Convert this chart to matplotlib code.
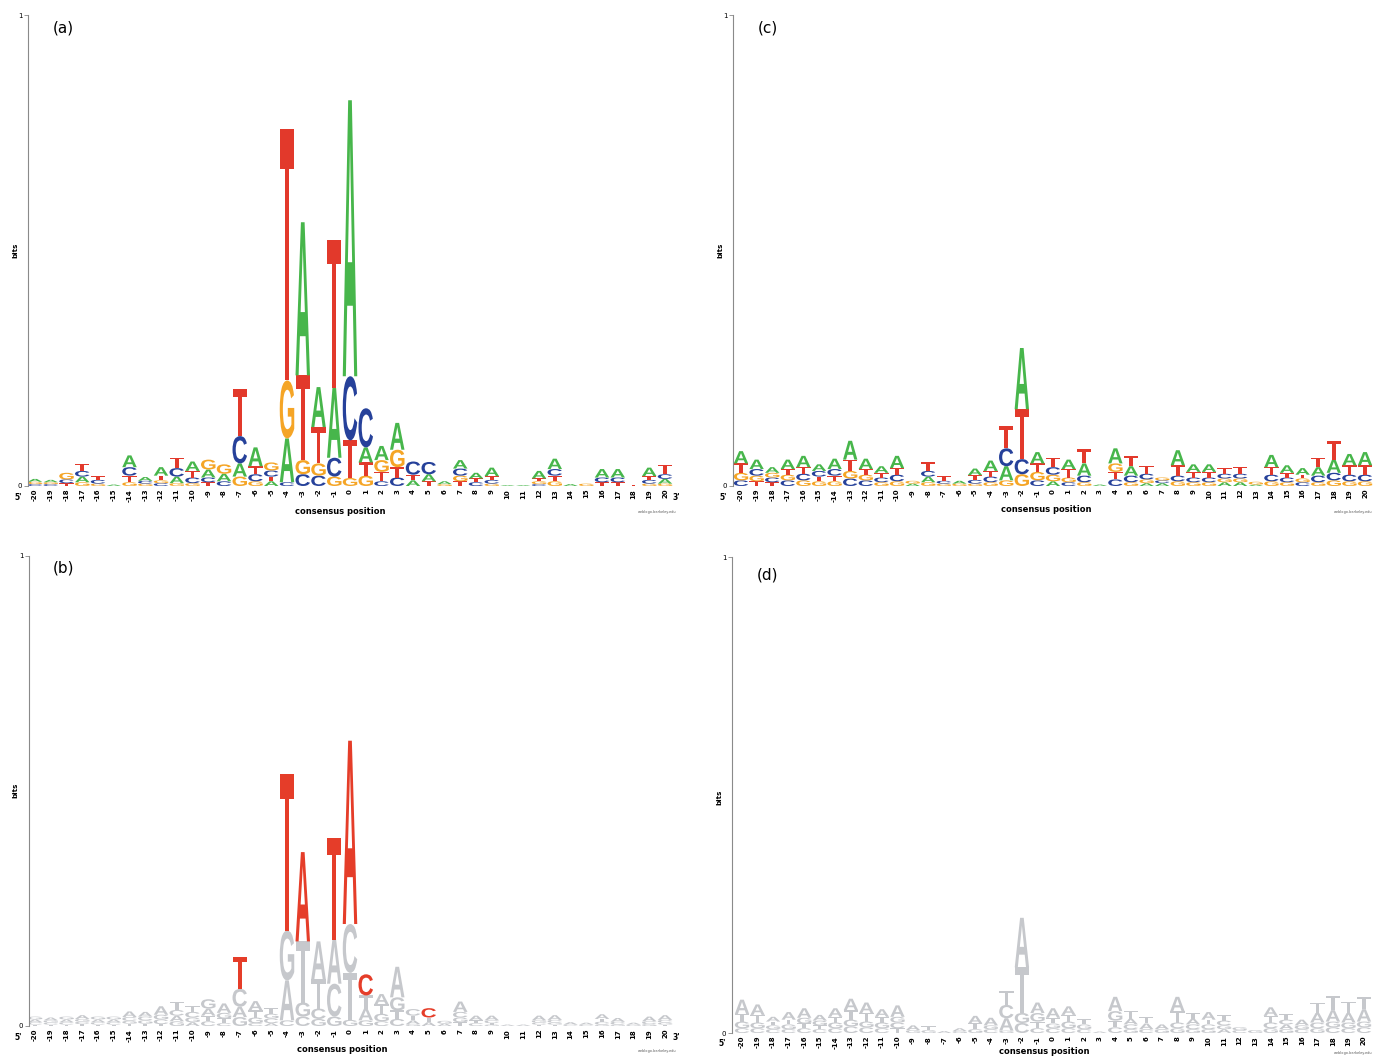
import matplotlib
matplotlib.use('Agg')
import matplotlib.pyplot as plt
from matplotlib.textpath import TextPath
from matplotlib.patches import PathPatch
from matplotlib.font_manager import FontProperties
from matplotlib.transforms import Affine2D

posiciones = list(range(-20, 21))

# altura (bits) de cada base por posicion, de -20 a 20
a_A = [.006, .005, 0, .012, 0, .003, .025, .008, .018, .014, .02, .017, .016, .028, .04, .01, .093, .325, .085, .148, .586,
       .032, .03, .057, .012, .015, .006, .018, .012, .018, .002, .002, .016, .022, .004, 0, .018, .018, 0, .018, .01]
a_C = [.004, .004, .008, .012, .008, 0, .018, .006, .006, .018, .012, .01, .01, .058, .015, .013, .008, .025, .022, .04, .136,
       .083, .01, .018, .028, .026, 0, .015, .008, .008, 0, 0, .004, .014, 0, 0, .01, .01, 0, .008, .01]
a_G = [.005, .004, .014, .008, .005, 0, .008, .005, .006, .006, .006, .021, .02, .02, .01, .017, .123, .03, .026, .02, .017,
       .022, .025, .037, 0, 0, .004, .012, 0, .005, 0, 0, .006, .01, 0, .005, 0, 0, 0, .005, .005]
a_T = [0, 0, .006, .015, .008, 0, .014, 0, .01, .022, .014, .008, 0, .1, .017, .01, .535, .18, .077, .315, .08,
       .028, .02, .022, .012, .01, 0, .01, .008, .008, 0, 0, .006, .012, 0, 0, .008, .008, .003, .008, .02]

b_A = [.006, .006, .006, .008, .006, .006, .012, .01, .018, .012, .008, .015, .02, .022, .02, .006, .085, .19, .08, .094, .39,
       .025, .022, .065, .008, .008, .005, .022, .01, .01, .003, .003, .01, .01, .005, .004, .01, .008, .004, .01, .01]
b_C = [.005, .004, .005, .005, .005, .005, .008, .008, .01, .012, .012, .01, .006, .038, .006, .01, .012, .02, .022, .07, .104,
       .045, .01, .015, .014, .02, 0, .012, .006, .006, 0, 0, .004, .006, .003, .003, .006, .006, 0, .006, .006]
b_G = [.006, .005, .006, .006, .006, .006, .006, .007, .01, .01, .01, .02, .012, .019, .012, .01, .106, .03, .015, .02, .013,
       .012, .016, .028, .004, 0, .006, .01, 0, .003, 0, 0, .005, .004, 0, 0, .003, .003, .003, .004, .004]
b_T = [.003, .003, .003, .004, .003, .003, .005, .005, .004, .018, .012, .012, .01, .068, .015, .012, .334, .13, .063, .215, .1,
       .028, .02, .018, .01, .01, 0, .008, .006, .003, 0, 0, .003, .003, 0, 0, .006, 0, 0, 0, .003]
rojos_b = [(-7, 'T'), (-4, 'T'), (-3, 'A'), (-1, 'T'), (0, 'A'), (1, 'C'), (5, 'C')]

c_A = [.026, .02, .012, .02, .024, .014, .022, .04, .022, .014, .026, .005, .012, 0, .006, .014, .022, .03, .13, .024, .01,
       .02, .026, .003, .032, .02, .006, .006, .032, .016, .016, .008, .008, .003, .026, .016, .014, .018, .028, .024, .028]
c_C = [.012, .014, .01, .012, .014, .012, .014, .016, .012, .01, .014, 0, .012, .006, 0, .008, .012, .038, .032, .012, .016,
       .008, .014, 0, .014, .014, .012, .006, .012, .01, .01, .01, .01, 0, .014, .01, .008, .014, .016, .014, .014]
c_G = [.016, .012, .01, .012, .012, .01, .01, .016, .012, .008, .01, .006, .008, .005, .005, .005, .008, .012, .025, .018, .014,
       .01, .008, 0, .018, .008, .008, .006, .01, .008, .008, .008, .008, .006, .01, .008, .008, .008, .012, .01, .01]
c_T = [.02, .01, .008, .012, .014, .01, .012, .024, .012, .01, .014, 0, .018, .01, 0, .01, .012, .047, .106, .018, .02,
       .018, .03, 0, .016, .022, .016, 0, .022, .012, .012, .012, .014, 0, .016, .01, .008, .02, .04, .02, .02]

d_A = [.03, .022, .01, .016, .02, .012, .018, .024, .022, .016, .024, .01, 0, .004, .006, .016, .016, .026, .104, .022, .02,
       .018, 0, .003, .03, .012, .012, .01, .03, .012, .016, .008, 0, 0, .018, .01, .012, .02, .024, .02, .026]
d_C = [.01, .01, .008, .008, .01, .008, .01, .014, .012, .01, .012, 0, 0, 0, 0, 0, .008, .028, .021, .01, .01,
       .01, .008, 0, .012, .01, .008, 0, .012, .01, .01, .01, .006, 0, .012, .01, .008, .012, .012, .01, .012]
d_G = [.014, .012, .008, .01, .012, .01, .012, .014, .012, .012, .012, .006, .006, 0, .004, .008, .008, .005, .021, .018, .01,
       .014, .01, 0, .02, .008, 0, .008, .01, .008, .008, .008, .006, .006, .01, .008, .008, .01, .012, .012, .012]
d_T = [.016, .016, .008, .01, .01, .008, .012, .02, .018, .012, .01, 0, .008, 0, 0, .012, 0, .03, .096, .014, .012,
       .014, .012, 0, .014, .016, .014, 0, .024, .012, .01, .012, 0, 0, .014, .012, 0, .022, .03, .024, .026]

colores = {'A': '#47b64b', 'C': '#26419a', 'G': '#f5a526', 'T': '#e2392b'}
gris = '#c6c8cc'
rojo = '#e53d29'

W, H = 1373, 1057
fig = plt.figure(figsize=(W / 100, H / 100), dpi=100)
fig.patch.set_facecolor('white')

fuente = FontProperties(family='Liberation Sans', weight='bold')
glifos = {l: TextPath((0, 0), l, size=1, prop=fuente) for l in 'ACGT'}


def letra(ax, l, x, y, w, h, color):
    p = glifos[l]
    ext = p.get_extents()
    t = Affine2D().translate(-ext.x0, -ext.y0).scale(w / ext.width, h / ext.height).translate(x - w / 2, y)
    ax.add_patch(PathPatch(t.transform_path(p), facecolor=color, edgecolor='none', lw=0))


def ftxt(x, y, s, **kw):
    fig.text(x / W, 1 - y / H, s, **kw)


def logo(alturas, izq, der, cero, arriba, p0, paso, color_de):
    ax = fig.add_axes([izq / W, 1 - cero / H, (der - izq) / W, (cero - arriba) / H])
    ax.set_xlim((izq - p0) / paso, (der - p0) / paso)
    ax.set_ylim(0, 1)
    for i, p in enumerate(posiciones):
        col = sorted([(alturas[l][i], l) for l in 'ACGT'])
        y = 0
        for h, l in col:
            if h > 0:
                letra(ax, l, p, y, 0.92, h, color_de(p, l))
            y += h
    for s in ['top', 'right', 'bottom']:
        ax.spines[s].set_visible(False)
    ax.spines['left'].set_color('#8a8a8a')
    ax.spines['left'].set_linewidth(0.8)
    ax.set_yticks([0, 1])
    ax.set_yticklabels(['0', '1'], fontsize=5)
    ax.tick_params(axis='y', length=3, width=0.6, color='#8a8a8a', pad=1)
    ax.set_xticks(posiciones)
    ax.set_xticklabels([str(p) for p in posiciones], rotation=90, fontsize=5, fontweight='bold')
    ax.tick_params(axis='x', length=0, pad=2)
    return ax


normal = lambda p, l: colores[l]
resaltado = lambda p, l: rojo if (p, l) in rojos_b else gris
todo_gris = lambda p, l: gris

logo({'A': a_A, 'C': a_C, 'G': a_G, 'T': a_T}, 28, 680, 486, 15, 350, 15.75, normal)
logo({'A': b_A, 'C': b_C, 'G': b_G, 'T': b_T}, 29, 680, 1026, 556, 350, 15.75, resaltado)
logo({'A': c_A, 'C': c_C, 'G': c_G, 'T': c_T}, 733, 1392, 486, 15, 1053, 15.6, normal)
logo({'A': d_A, 'C': d_C, 'G': d_G, 'T': d_T}, 732, 1392, 1033, 557, 1053, 15.55, todo_gris)

# textos de cada panel: etiqueta, eje y, extremos 5'/3', titulo del eje x
paneles = [('(a)', 0, 486, 340, 511, 657, True),
           ('(b)', 0, 1026, 342, 1050, 657, True),
           ('(c)', 705, 486, 1046, 510, 1372, False),
           ('(d)', 704, 1033, 1044, 1051, 1372, False)]
for etiqueta, x0, cero, xc, yc, xw, tres in paneles:
    ftxt(x0 + 53, cero - 458, etiqueta, fontsize=11, va='center', ha='left')
    ftxt(x0 + 15, cero - 236, 'bits', rotation=90, fontsize=5, fontweight='bold', va='center', ha='center')
    ftxt(x0 + 18, cero + 11, "5'", fontsize=5.5, fontweight='bold', va='center', ha='center')
    if tres:
        ftxt(x0 + 676, cero + 11, "3'", fontsize=5.5, fontweight='bold', va='center', ha='center')
        ftxt(xw, yc + 1, 'weblogo.berkeley.edu', fontsize=2.5, color='#555555', va='center', ha='center')
    else:
        ftxt(xw, yc + 2, 'weblogo.berkeley.edu', fontsize=2.5, color='#555555', va='center', ha='right')
    ftxt(xc, yc, 'consensus position', fontsize=6, fontweight='bold', va='center', ha='center')

fig.savefig('out.png', dpi=100, facecolor='white')
